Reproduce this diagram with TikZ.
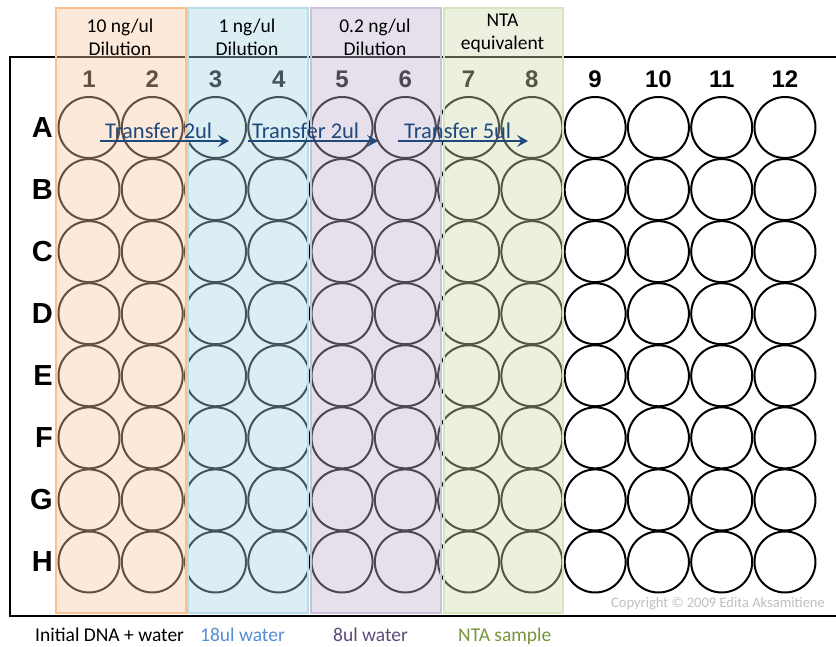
\documentclass[tikz,border=0pt]{standalone}
\usepackage{fontspec}
\setmainfont{Carlito}
\newfontfamily\platefont{Liberation Sans}
\usetikzlibrary{arrows.meta}

\definecolor{xferblue}{HTML}{1F497D}
\definecolor{orgfill}{HTML}{FAC8A0}
\definecolor{orgline}{HTML}{FAC090}
\definecolor{bluefill}{HTML}{A3D5E1}
\definecolor{blueline}{HTML}{B7DEE8}
\definecolor{purfill}{HTML}{BEB2D0}
\definecolor{purline}{HTML}{CCC1DA}
\definecolor{grnfill}{HTML}{CDDCAD}
\definecolor{grnline}{HTML}{D7E4BD}
\definecolor{waterblue}{HTML}{558ED5}
\definecolor{waterpur}{HTML}{5F497A}
\definecolor{ntagreen}{HTML}{77933C}
\definecolor{copygray}{HTML}{BFBFBF}

\tikzset{
  well/.style={circle,draw,line width=2pt,minimum size=61pt,inner sep=0pt},
  colnum/.style={font=\platefont\bfseries\fontsize{24}{24}\selectfont,inner sep=0pt},
  rowlbl/.style={font=\platefont\bfseries\fontsize{29}{29}\selectfont,inner sep=0pt,anchor=east},
  band/.style={rectangle,line width=2pt,fill opacity=0.4,draw opacity=1,anchor=north west,
    minimum width=#1,minimum height=605pt,inner sep=0pt},
  hdr/.style={font=\fontsize{19.5}{23}\selectfont,align=center,inner sep=0pt,anchor=base},
  xfer/.style={xferblue,line width=2pt,-{Stealth[length=11pt,width=12pt,inset=4.5pt]}},
  xfertext/.style={text=xferblue,font=\fontsize{22.5}{22}\selectfont,anchor=base west,inner sep=0pt},
  foot/.style={font=\fontsize{19.5}{20}\selectfont,anchor=base west,inner sep=0pt}
}

\begin{document}
\begin{tikzpicture}[x=1pt,y=-1pt]
  \useasboundingbox (0,0) rectangle (836,647);
  % plate
  \draw[line width=2.5pt] (845,57) -- (10,57) -- (10,616) -- (845,616);
  \foreach \r [count=\i from 0] in {A,B,C,D,E,F,G,H}{
    \node[rowlbl] (r\r) at (53,{127.5+62.07*\i}) {\r};
    \foreach \c in {1,...,12}
      \node[well] (\r\c) at ({89+63.27*(\c-1)},{127.5+62.07*\i}) {};
  }
  \foreach \c in {1,...,12}
    \node[colnum] (n\c) at ({89+63.27*(\c-1)},79) {\c};
  % dilution bands
  \node[band=130pt,fill=orgfill,draw=orgline] (b1) at (55,7) {};
  \node[band=120pt,fill=bluefill,draw=blueline] (b2) at (187,7) {};
  \node[band=130pt,fill=purfill,draw=purline] (b3) at (310,7) {};
  \node[band=119pt,fill=grnfill,draw=grnline] (b4) at (443,7) {};
  \node[hdr] (h1) at (120,56) {10 ng/ul\\Dilution};
  \node[hdr] (h2) at (247,56) {1 ng/ul\\Dilution};
  \node[hdr] (h3) at (375,56) {0.2 ng/ul\\Dilution};
  \node[hdr] (h4) at (502.5,50) {NTA\\equivalent};
  % transfers
  \coordinate (s1) at (100,141); \coordinate (e1) at (229,141);
  \coordinate (s2) at (248,141); \coordinate (e2) at (378,141);
  \coordinate (s3) at (398,141); \coordinate (e3) at (528,141);
  \draw[xfer] (s1) -- (e1);
  \draw[xfer] (s2) -- (e2);
  \draw[xfer] (s3) -- (e3);
  \node[xfertext] (t1) at (105,139) {Transfer 2ul};
  \node[xfertext] (t2) at (252,139) {Transfer 2ul};
  \node[xfertext] (t3) at (404,139) {Transfer 5ul};
  % legend
  \node[foot] (f1) at (35,641) {Initial DNA + water};
  \node[foot,text=waterblue] (f2) at (200,641) {18ul water};
  \node[foot,text=waterpur] (f3) at (333,641) {8ul water};
  \node[foot,text=ntagreen] (f4) at (458,641) {NTA sample};
  \node[font=\fontsize{14.5}{15}\selectfont,text=copygray,anchor=base east,inner sep=0pt] (copy)
    at (825,607) {Copyright © 2009 Edita Aksamitiene};
\end{tikzpicture}
\end{document}
